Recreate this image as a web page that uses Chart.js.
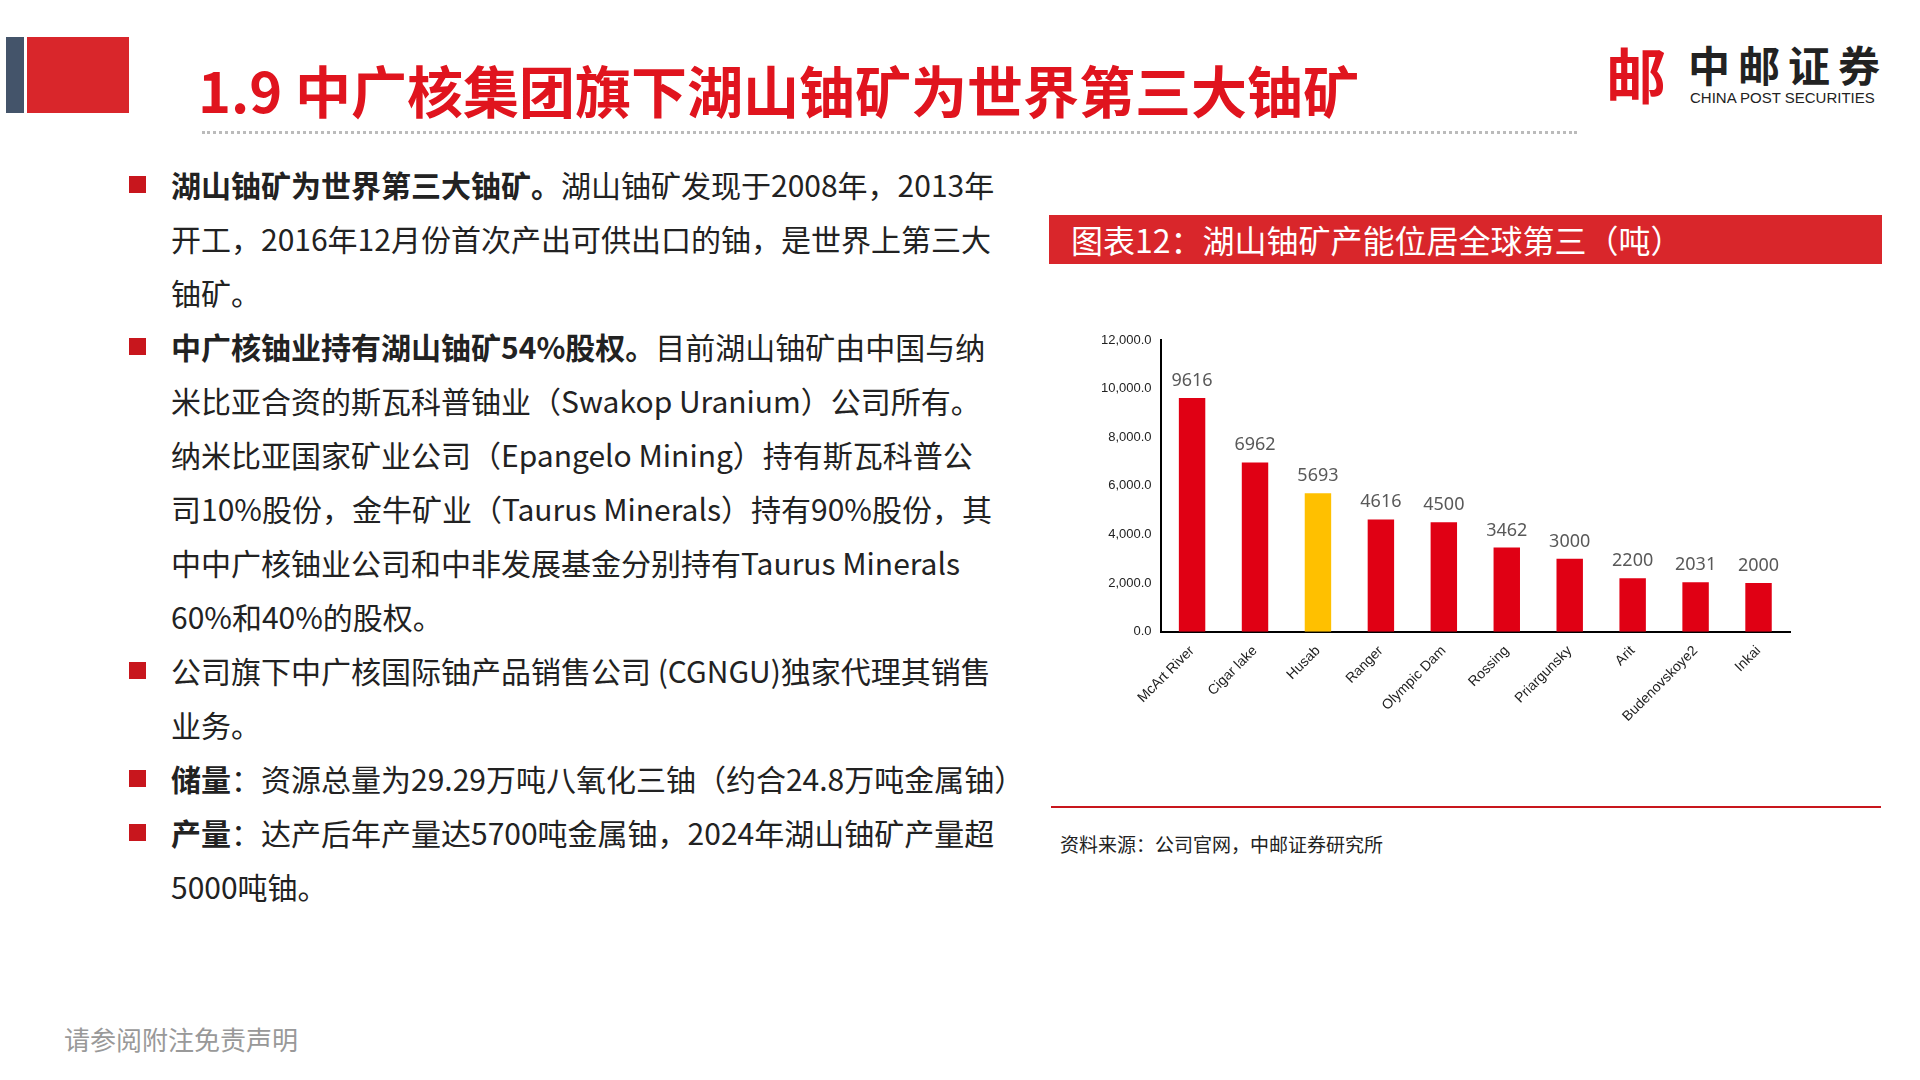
<!DOCTYPE html>
<html><head><meta charset="utf-8">
<script src="https://cdn.jsdelivr.net/npm/chart.js@4"></script>
<style>
body{margin:0;width:1920px;height:1080px;position:relative;background:#fff;font-family:"Noto Sans CJK SC","Noto Sans",sans-serif;overflow:hidden}
.abs{position:absolute}
#txt p{margin:0;font-size:30px;line-height:54px;color:#222;position:relative;padding-left:0}
#txt p .b{position:absolute;left:-42px;top:19px;width:17px;height:17px;background:#c8161d}
</style></head><body>
<div class="abs" style="left:6px;top:37px;width:18px;height:76px;background:#44546a"></div>
<div class="abs" style="left:27px;top:37px;width:102px;height:76px;background:#d9262b"></div>
<div class="abs" style="left:198px;top:48px;font-size:56px;font-weight:bold;color:#e0141e;white-space:nowrap">1.9 中广核集团旗下湖山铀矿为世界第三大铀矿</div>
<div class="abs" style="left:202px;top:131px;width:1375px;border-top:3px dotted #bbb"></div>
<div class="abs" style="left:1606px;top:38px;width:70px;height:70px;color:#e0141e;font-size:60px;font-weight:bold;line-height:70px">邮</div>
<div class="abs" style="left:1688px;top:36px;font-size:42px;font-weight:bold;color:#222;letter-spacing:8px;line-height:56px">中邮证券</div>
<div class="abs" style="left:1690px;top:89px;font-size:15px;color:#222;font-family:'Liberation Sans'">CHINA POST SECURITIES</div>
<div id="txt" class="abs" style="left:171px;top:157px;width:826px">
<p><span class="b"></span><b>湖山铀矿为世界第三大铀矿。</b>湖山铀矿发现于2008年，2013年开工，2016年12月份首次产出可供出口的铀，是世界上第三大铀矿。</p>
<p><span class="b"></span><b>中广核铀业持有湖山铀矿54%股权。</b>目前湖山铀矿由中国与纳米比亚合资的斯瓦科普铀业（Swakop Uranium）公司所有。纳米比亚国家矿业公司（Epangelo Mining）持有斯瓦科普公司10%股份，金牛矿业（Taurus Minerals）持有90%股份，其中中广核铀业公司和中非发展基金分别持有Taurus Minerals 60%和40%的股权。</p>
<p><span class="b"></span>公司旗下中广核国际铀产品销售公司 (CGNGU)独家代理其销售业务。</p>
<p style="white-space:nowrap"><span class="b"></span><b>储量</b>：资源总量为29.29万吨八氧化三铀（约合24.8万吨金属铀）</p>
<p><span class="b"></span><b>产量</b>：达产后年产量达5700吨金属铀，2024年湖山铀矿产量超5000吨铀。</p>
</div>
<div class="abs" style="left:1049px;top:215px;width:833px;height:49px;background:#d9262b;color:#fff;font-size:32px;line-height:49px;padding-left:22px;box-sizing:border-box">图表12：湖山铀矿产能位居全球第三（吨）</div>
<div class="abs" style="left:1050px;top:318px;width:760px;height:420px"><canvas id="c" width="760" height="420"></canvas></div>
<div class="abs" style="left:1051px;top:806px;width:830px;border-top:2px solid #c8161d"></div>
<div class="abs" style="left:1060px;top:830px;font-size:19px;color:#222">资料来源：公司官网，中邮证券研究所</div>
<div class="abs" style="left:64px;top:1020px;font-size:26px;color:#999">请参阅附注免责声明</div>
<script>
const mines = ['McArt River','Cigar lake','Husab','Ranger','Olympic Dam','Rossing','Priargunsky','Arit','Budenovskoye2','Inkai'];
const capacity = [9616, 6962, 5693, 4616, 4500, 3462, 3000, 2200, 2031, 2000];
const barColors = mines.map(m => m === 'Husab' ? '#ffc000' : '#e00014');

const valueLabels = {
  id: 'valueLabels',
  afterDatasetsDraw(chart) {
    const ctx = chart.ctx;
    ctx.save();
    ctx.font = '18px "Noto Sans"';
    ctx.fillStyle = '#595959';
    ctx.textAlign = 'center';
    chart.getDatasetMeta(0).data.forEach((bar, i) => {
      ctx.fillText(capacity[i], bar.x, bar.y - 12);
    });
    ctx.restore();
  }
};

new Chart(document.getElementById('c'), {
  type: 'bar',
  data: {
    labels: mines,
    datasets: [{ data: capacity, backgroundColor: barColors, barPercentage: 0.42, categoryPercentage: 1 }]
  },
  options: {
    responsive: false,
    animation: false,
    layout: { padding: { left: 48, right: 20, top: 22, bottom: 10 } },
    plugins: { legend: { display: false }, tooltip: { enabled: false } },
    scales: {
      y: {
        min: 0, max: 12000,
        ticks: { stepSize: 2000, color: '#222', font: { size: 13 }, callback: v => v.toLocaleString('en-US', { minimumFractionDigits: 1 }) },
        grid: { display: false, drawTicks: true, tickLength: 6, tickColor: '#000' },
        border: { color: '#000', width: 2 }
      },
      x: {
        ticks: { color: '#222', font: { size: 14 }, minRotation: 45, maxRotation: 45 },
        grid: { display: false },
        border: { color: '#000', width: 2 }
      }
    }
  },
  plugins: [valueLabels]
});
</script>
</body></html>
